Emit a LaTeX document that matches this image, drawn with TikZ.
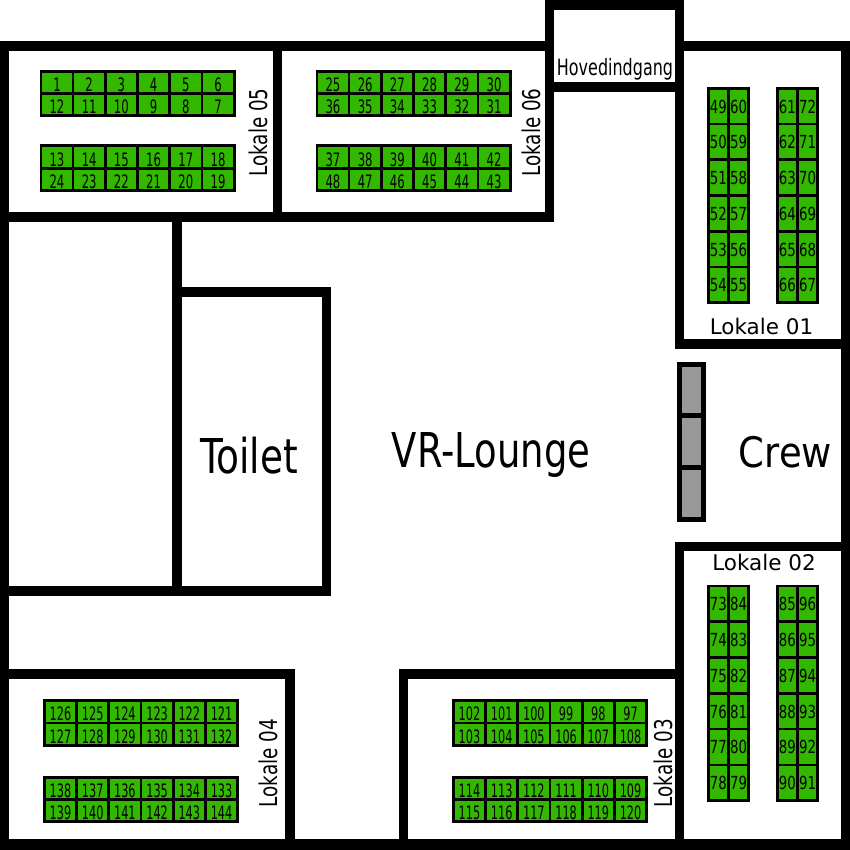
\documentclass[tikz,border=0pt]{standalone}
\usepackage{fontspec}
\usepackage{graphicx}
\setmainfont{DejaVu Sans}
\definecolor{seatgreen}{HTML}{33B800}
\definecolor{crewgrey}{HTML}{999999}
\tikzset{
  wall/.style={fill=black,draw=none},
  seat/.style={rectangle,draw=black,fill=seatgreen,line width=2.7pt,inner sep=0pt,outer sep=0pt},
  crewdesk/.style={rectangle,draw=black,fill=crewgrey,line width=5pt,inner sep=0pt,outer sep=0pt,minimum width=24pt,minimum height=51.7pt},
  roomlabel/.style={inner sep=0pt,outer sep=0pt,anchor=base},
}
% x0, y0, x1, y1, columns, xscale of digits, font size, numbers
\newcommand\seatblock[8]{%
  \foreach \n [count=\k from 0] in {#8} {%
    \pgfmathtruncatemacro\rw{int(\k/#5)}%
    \pgfmathtruncatemacro\cl{\k-\rw*#5}%
    \pgfmathtruncatemacro\rows{#5==6 ? 2 : 6}%
    \pgfmathsetmacro\sh{#5==6 ? 9.2 : 7}%
    \pgfmathsetmacro\dx{(#3-#1-2.7)/#5}%
    \pgfmathsetmacro\dy{(#4-#2-2.7)/\rows}%
    \node[seat,minimum width=\dx pt,minimum height=\dy pt] (s\n)
      at ({#1+1.35+(\cl+.5)*\dx},{#2+1.35+(\rw+.5)*\dy})
      {\raisebox{-\sh pt}[0pt][0pt]{\scalebox{#6}[1]{\fontsize{#7}{#7}\selectfont\n}}};
  }%
}
\newcommand\txt[3]{\scalebox{#1}[1]{\fontsize{#2}{#2}\selectfont #3}}
\begin{document}
\begin{tikzpicture}[x=1pt,y=-1pt]
\useasboundingbox (0,0) rectangle (850,850);
\fill[white] (0,0) rectangle (850,850);
% outer walls
\fill[wall] (0,41) rectangle (545,51);
\fill[wall] (0,41) rectangle (9,850);
\fill[wall] (0,839) rectangle (850,850);
\fill[wall] (841,41) rectangle (850,850);
\fill[wall] (675,41) rectangle (850,51);
% entrance
\fill[wall] (545,0) rectangle (554,222);
\fill[wall] (675,0) rectangle (684,349);
\fill[wall] (545,0) rectangle (684,10);
\fill[wall] (545,82) rectangle (684,92);
% rooms 05 and 06
\fill[wall] (273,41) rectangle (282,222);
\fill[wall] (0,212) rectangle (554,222);
% toilet
\fill[wall] (172,212) rectangle (182,596);
\fill[wall] (172,287) rectangle (331,297);
\fill[wall] (322,287) rectangle (331,596);
\fill[wall] (0,586) rectangle (331,596);
% room 01 and 02
\fill[wall] (675,339) rectangle (850,349);
\fill[wall] (675,542) rectangle (850,551);
\fill[wall] (675,542) rectangle (684,850);
% room 04 and 03
\fill[wall] (0,669) rectangle (295,679);
\fill[wall] (285,669) rectangle (295,850);
\fill[wall] (399,669) rectangle (684,679);
\fill[wall] (399,669) rectangle (408,850);
% crew desks
\node[crewdesk] (d1) at (691.5,390) {};
\node[crewdesk] (d2) at (691.5,441.7) {};
\node[crewdesk] (d3) at (691.5,493.4) {};
% seats
\seatblock{39.5}{70}{235.5}{117}{6}{.63}{18.5}{1,2,3,4,5,6,12,11,10,9,8,7}
\seatblock{39.5}{144.5}{235.5}{192}{6}{.63}{18.5}{13,14,15,16,17,18,24,23,22,21,20,19}
\seatblock{315.5}{70}{511.5}{117}{6}{.63}{18.5}{25,26,27,28,29,30,36,35,34,33,32,31}
\seatblock{315.5}{144.5}{511.5}{192}{6}{.63}{18.5}{37,38,39,40,41,42,48,47,46,45,44,43}
\seatblock{707}{87}{750}{304}{2}{.74}{18}{49,60,50,59,51,58,52,57,53,56,54,55}
\seatblock{776}{87}{819}{304}{2}{.74}{18}{61,72,62,71,63,70,64,69,65,68,66,67}
\seatblock{707}{584.5}{750}{802}{2}{.74}{18}{73,84,74,83,75,82,76,81,77,80,78,79}
\seatblock{776}{584.5}{819}{802}{2}{.74}{18}{85,96,86,95,87,94,88,93,89,92,90,91}
\seatblock{43}{699}{239}{747}{6}{.61}{18.5}{126,125,124,123,122,121,127,128,129,130,131,132}
\seatblock{43}{776}{239}{823}{6}{.61}{18.5}{138,137,136,135,134,133,139,140,141,142,143,144}
\seatblock{452}{699}{648}{747}{6}{.61}{18.5}{102,101,100,99,98,97,103,104,105,106,107,108}
\seatblock{452}{776}{648}{823}{6}{.61}{18.5}{114,113,112,111,110,109,115,116,117,118,119,120}
% labels
\node[roomlabel] (hov) at (615,76) {\txt{.71}{22.5}{Hovedindgang}};
\node[roomlabel] (toi) at (249,473) {\txt{.78}{48}{Toilet}};
\node[roomlabel] (vr) at (491,467) {\txt{.77}{48}{VR-Lounge}};
\node[roomlabel] (crew) at (785.5,467) {\txt{.88}{42}{Crew}};
\node[roomlabel] (l01) at (761.5,334) {\txt{1}{21.5}{Lokale 01}};
\node[roomlabel] (l02) at (764,570) {\txt{1}{21.5}{Lokale 02}};
\node[roomlabel,rotate=90] (l05) at (267.5,132.5) {\txt{.75}{24.5}{Lokale 05}};
\node[roomlabel,rotate=90] (l06) at (540.5,132.5) {\txt{.75}{24.5}{Lokale 06}};
\node[roomlabel,rotate=90] (l04) at (277.5,763) {\txt{.75}{24.5}{Lokale 04}};
\node[roomlabel,rotate=90] (l03) at (672.5,763) {\txt{.75}{24.5}{Lokale 03}};
\end{tikzpicture}
\end{document}
